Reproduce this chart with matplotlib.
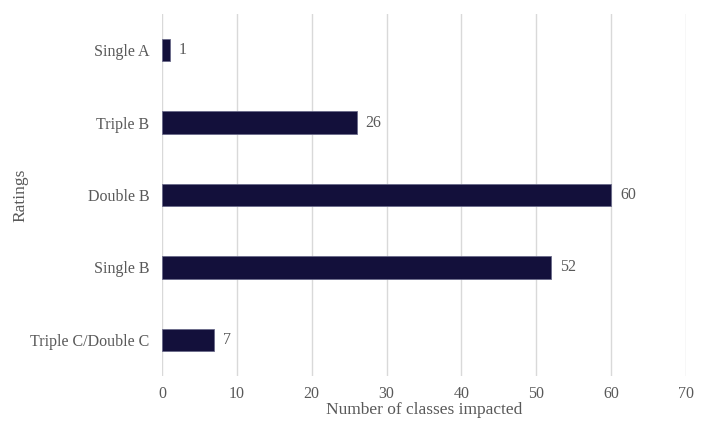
import matplotlib.pyplot as plt

ratings = ["Single A", "Triple B", "Double B", "Single B", "Triple C/Double C"]
classes = [1, 26, 60, 52, 7]

BAR_COLOR = "#13103b"
TEXT_COLOR = "#595959"

plt.rcParams['font.family'] = ['Liberation Serif', 'DejaVu Serif']

fig = plt.figure(figsize=(7.06, 4.22), dpi=100)
ax = fig.add_axes([0.2295, 0.109, 0.7422, 0.858])

pos = list(range(len(ratings)))[::-1]
bars = ax.barh(pos, classes, height=0.31, color=BAR_COLOR, edgecolor="#6a6a8a", linewidth=0.6, zorder=3)
for p, v in zip(pos, classes):
    ax.text(v + 1.2, p, str(v), va="center", ha="left", fontsize=11.5, color=TEXT_COLOR)

ax.set_xlim(0, 70)
ax.set_ylim(-0.5, 4.5)
ax.set_xticks(range(0, 71, 10))
ax.set_yticks(pos)
ax.set_yticklabels(ratings)
ax.tick_params(axis="both", length=0, labelsize=11.5, labelcolor=TEXT_COLOR)
ax.tick_params(axis="x", pad=7)
ax.tick_params(axis="y", pad=9)
ax.grid(axis="x", color="#d9d9d9", linewidth=1, zorder=0)
for s in ax.spines.values():
    s.set_visible(False)

ax.set_xlabel("Number of classes impacted", fontsize=12.5, color=TEXT_COLOR, labelpad=0)
ax.set_ylabel("Ratings", fontsize=12.5, color=TEXT_COLOR, labelpad=1)

fig.savefig("out.png", dpi=100)
